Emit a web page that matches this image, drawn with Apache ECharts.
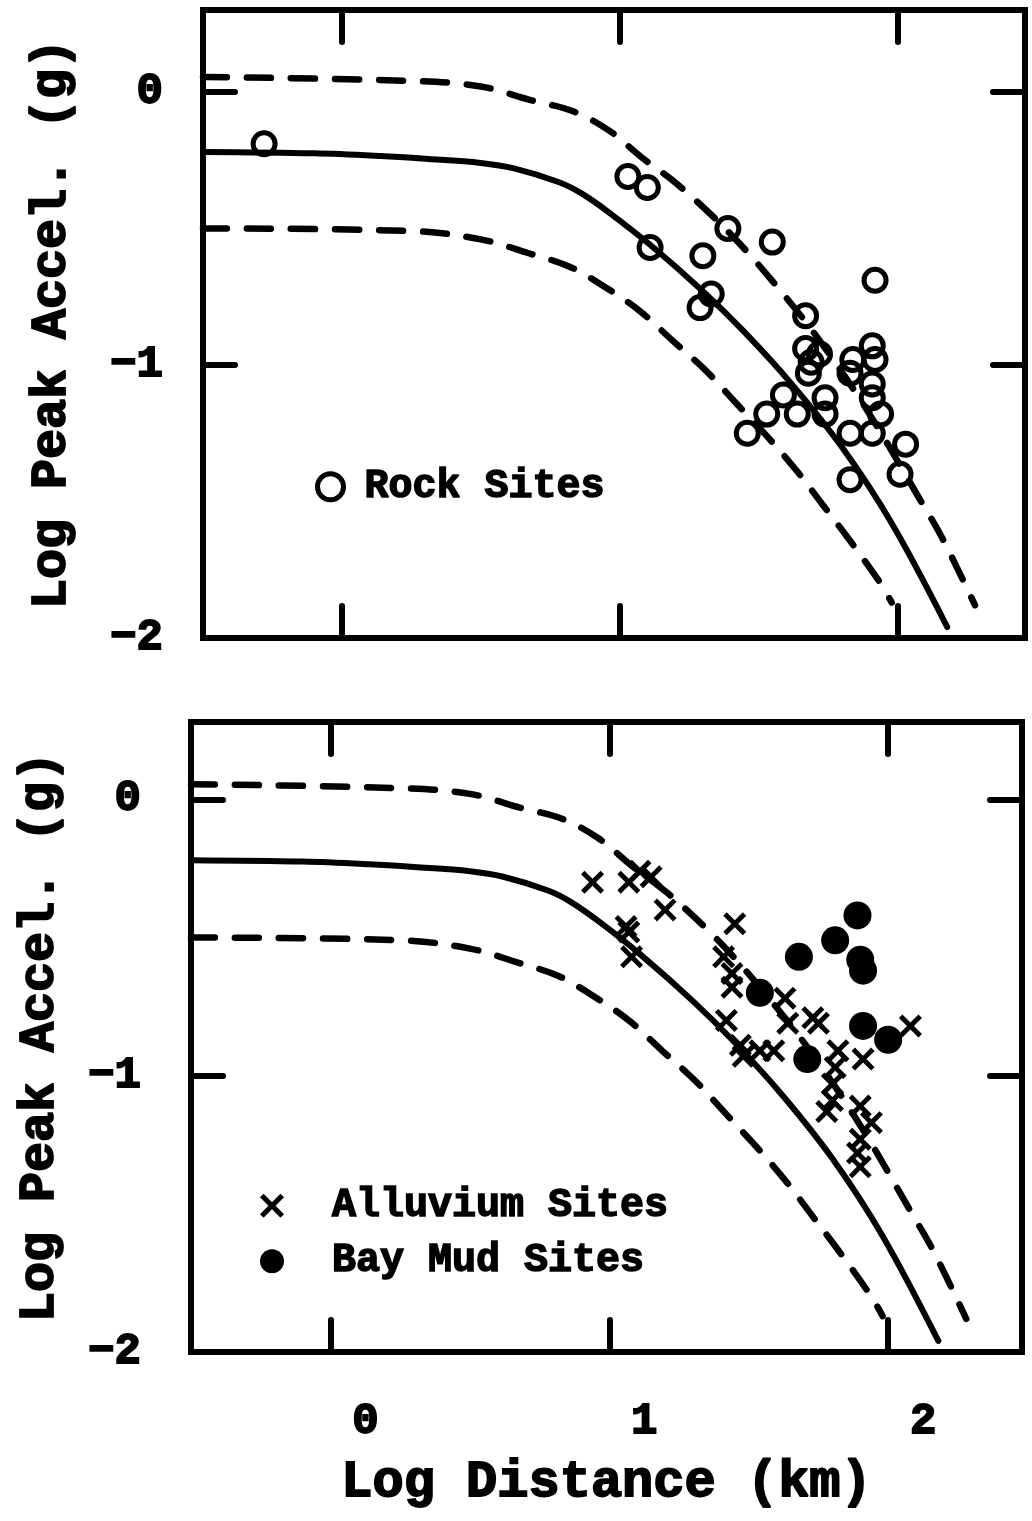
<!DOCTYPE html>
<html>
<head>
<meta charset="utf-8">
<script src="https://cdn.jsdelivr.net/npm/echarts@6/dist/echarts.min.js"></script>
<style>
html,body{margin:0;padding:0;background:#fff;}
#chart{width:1032px;height:1521px;}
</style>
</head>
<body>
<div id="chart"></div>
<script>
// ---- Data ----
const xTicks = [0, 1, 2];
const yTicks = [-2, -1, 0];

// Mean attenuation curve (solid)
const meanX = [-0.5, -0.1, 0.14, 0.3, 0.5, 0.62, 0.78, 0.86, 0.96, 1.11, 1.30, 1.45, 1.62, 1.80, 1.98, 2.18];
const meanY = [-0.22, -0.225, -0.235, -0.245, -0.26, -0.28, -0.33, -0.37, -0.44, -0.56, -0.73, -0.88, -1.07, -1.30, -1.58, -1.96];
// Upper bound (dashed)
const upperX = [-0.5, 0.26, 0.5, 0.68, 0.83, 0.96, 1.08, 1.21, 1.38, 1.54, 1.72, 1.90, 2.08, 2.16, 2.28];
const upperY = [0.055, 0.04, 0.02, -0.03, -0.07, -0.14, -0.24, -0.34, -0.50, -0.68, -0.91, -1.18, -1.49, -1.63, -1.88];
// Lower bound (dashed)
const lowerX = [-0.5, 0.26, 0.5, 0.67, 0.82, 0.94, 1.07, 1.19, 1.31, 1.42, 1.53, 1.64, 1.73, 1.82, 1.94, 1.98];
const lowerY = [-0.50, -0.51, -0.54, -0.59, -0.64, -0.71, -0.80, -0.91, -1.02, -1.14, -1.26, -1.39, -1.51, -1.63, -1.80, -1.87];

// Rock sites (top panel)
const rockX = [-0.28, 1.03, 1.10, 1.39, 1.55, 1.11, 1.30, 1.92, 1.33, 1.29, 1.67,
  1.67, 1.69, 1.68, 1.72, 1.91, 1.84, 1.92, 1.83, 1.91, 1.91, 1.94,
  1.46, 1.53, 1.59, 1.64, 1.74, 1.74, 1.83, 1.91, 2.03, 2.01, 1.83];
const rockY = [-0.19, -0.31, -0.35, -0.50, -0.55, -0.57, -0.60, -0.69, -0.74, -0.79, -0.82,
  -0.94, -0.99, -1.03, -0.96, -0.93, -0.98, -0.98, -1.03, -1.07, -1.12, -1.18,
  -1.25, -1.18, -1.11, -1.18, -1.12, -1.18, -1.25, -1.25, -1.29, -1.40, -1.42];

// Alluvium sites (bottom panel)
const alluvX = [0.94, 1.07, 1.11, 1.15, 1.20, 1.06, 1.07, 1.08,
  1.45, 1.41, 1.44, 1.44, 1.63, 1.73, 1.75, 1.64,
  1.42, 1.47, 1.48, 1.54, 1.59, 1.82, 1.81, 1.91,
  2.08, 1.80, 1.80, 1.78, 1.90, 1.94, 1.90, 1.89, 1.90];
const alluvY = [-0.30, -0.30, -0.26, -0.28, -0.40, -0.46, -0.48, -0.57,
  -0.45, -0.57, -0.63, -0.68, -0.72, -0.79, -0.81, -0.81,
  -0.80, -0.89, -0.93, -0.91, -0.91, -0.91, -0.97, -0.94,
  -0.82, -1.03, -1.09, -1.13, -1.11, -1.17, -1.23, -1.28, -1.33];

// Bay mud sites (bottom panel)
const mudX = [1.89, 1.81, 1.68, 1.90, 1.91, 1.54, 1.91, 2.00, 1.71];
const mudY = [-0.42, -0.51, -0.57, -0.58, -0.62, -0.70, -0.82, -0.87, -0.94];

const seriesNames = ['Rock Sites', 'Alluvium Sites', 'Bay Mud Sites'];
const xName = 'Log Distance (km)';
const yName = 'Log Peak Accel. (g)';

// ---- Chart ----
const zip = (a, b) => a.map((v, i) => [v, b[i]]);
const FONT = 'Liberation Mono';
const crossPath = 'path://M0,1.5L1.5,0L5,3.5L8.5,0L10,1.5L6.5,5L10,8.5L8.5,10L5,6.5L1.5,10L0,8.5L3.5,5Z';
const fmtY = v => (v === 0 ? '0' : '\u2212' + Math.abs(v));

const tick = { show: true, inside: true, length: 32, lineStyle: { width: 6, color: '#000', cap: 'round' } };
const boldText = { fontFamily: FONT, fontWeight: 'bold', color: '#000', textBorderColor: '#000', textBorderWidth: 1.8 };

function xAx(grid, pos, withLabel) {
  const ax = {
    gridIndex: grid, type: 'value', min: -0.5, max: grid === 0 ? 2.46 : 2.48, position: pos,
    axisLine: { show: false, onZero: false },
    axisTick: Object.assign({}, tick, { customValues: xTicks }),
    splitLine: { show: false },
    axisLabel: { show: false }
  };
  if (withLabel) {
    ax.axisLabel = Object.assign({ show: true, customValues: xTicks, margin: 48, fontSize: 44, padding: [0, 0, 0, 70] }, boldText);
    ax.name = xName;
    ax.nameLocation = 'middle';
    ax.nameGap = 105;
    ax.nameTextStyle = Object.assign({ fontSize: 52 }, boldText);
  }
  return ax;
}
function yAx(grid, pos, withLabel) {
  const ax = {
    gridIndex: grid, type: 'value', min: -2, max: grid === 0 ? 0.3 : 0.28, position: pos,
    axisLine: { show: false, onZero: false },
    axisTick: Object.assign({}, tick, { customValues: yTicks }),
    splitLine: { show: false },
    axisLabel: { show: false }
  };
  if (withLabel) {
    ax.axisLabel = Object.assign({ show: true, customValues: yTicks, formatter: fmtY, margin: grid === 0 ? 40 : 50, fontSize: 44 }, boldText);
    ax.name = yName;
    ax.nameLocation = 'middle';
    ax.nameRotate = 90;
    ax.nameGap = 126;
    ax.nameTextStyle = Object.assign({ fontSize: 50 }, boldText);
  }
  return ax;
}

function curves(xi, yi) {
  const base = { type: 'line', xAxisIndex: xi, yAxisIndex: yi, symbol: 'none', smooth: 0.35, z: 2, silent: true };
  return [
    Object.assign({}, base, { name: 'mean', data: zip(meanX, meanY), lineStyle: { color: '#000', width: 6, cap: 'round' } }),
    Object.assign({}, base, { name: 'upper', data: zip(upperX, upperY), lineStyle: { color: '#000', width: 6.5, type: [24, 20], cap: 'round' } }),
    Object.assign({}, base, { name: 'lower', data: zip(lowerX, lowerY), lineStyle: { color: '#000', width: 6.5, type: [24, 20], cap: 'round' } })
  ];
}

const legendText = { fontSize: 40, fontFamily: FONT, fontWeight: 'bold', color: '#000', textBorderColor: '#000', textBorderWidth: 1.5 };

const option = {
  backgroundColor: '#fff',
  animation: false,
  grid: [
    { left: 203, top: 10, width: 822, height: 628, show: true, borderColor: '#000', borderWidth: 6, backgroundColor: 'transparent' },
    { left: 191, top: 722, width: 831, height: 630, show: true, borderColor: '#000', borderWidth: 6, backgroundColor: 'transparent' }
  ],
  xAxis: [xAx(0, 'bottom', false), xAx(0, 'top', false), xAx(1, 'bottom', true), xAx(1, 'top', false)],
  yAxis: [yAx(0, 'left', true), yAx(0, 'right', false), yAx(1, 'left', true), yAx(1, 'right', false)],
  legend: [
    {
      orient: 'vertical', left: 310, top: 461, itemWidth: 26, itemHeight: 26, selectedMode: false,
      textStyle: Object.assign({}, legendText, { padding: [0, 0, 0, 16] }),
      data: [{ name: seriesNames[0], icon: 'circle', itemStyle: { color: 'rgba(0,0,0,0)', borderColor: '#000', borderWidth: 5 } }]
    },
    {
      orient: 'vertical', left: 255, top: 1180, itemWidth: 24, itemHeight: 24, itemGap: 14, selectedMode: false,
      textStyle: Object.assign({}, legendText, { padding: [0, 0, 0, 43] }),
      data: [
        { name: seriesNames[1], icon: crossPath, itemStyle: { color: '#000', borderWidth: 0 } },
        { name: seriesNames[2], icon: 'circle', itemStyle: { color: '#000', borderWidth: 0 } }
      ]
    }
  ],
  series: [
    ...curves(0, 0),
    {
      name: seriesNames[0], type: 'scatter', xAxisIndex: 0, yAxisIndex: 0, z: 3,
      symbol: 'circle', symbolSize: 22, data: zip(rockX, rockY),
      itemStyle: { color: 'rgba(0,0,0,0)', borderColor: '#000', borderWidth: 5, opacity: 1 }
    },
    ...curves(2, 2),
    {
      name: seriesNames[1], type: 'scatter', xAxisIndex: 2, yAxisIndex: 2, z: 3,
      symbol: crossPath, symbolSize: 23, data: zip(alluvX, alluvY),
      itemStyle: { color: '#000', opacity: 1 }
    },
    {
      name: seriesNames[2], type: 'scatter', xAxisIndex: 2, yAxisIndex: 2, z: 3,
      symbol: 'circle', symbolSize: 28, data: zip(mudX, mudY),
      itemStyle: { color: '#000', opacity: 1 }
    }
  ]
};

const chart = echarts.init(document.getElementById('chart'), null, { renderer: 'canvas' });
chart.setOption(option);
</script>
</body>
</html>
